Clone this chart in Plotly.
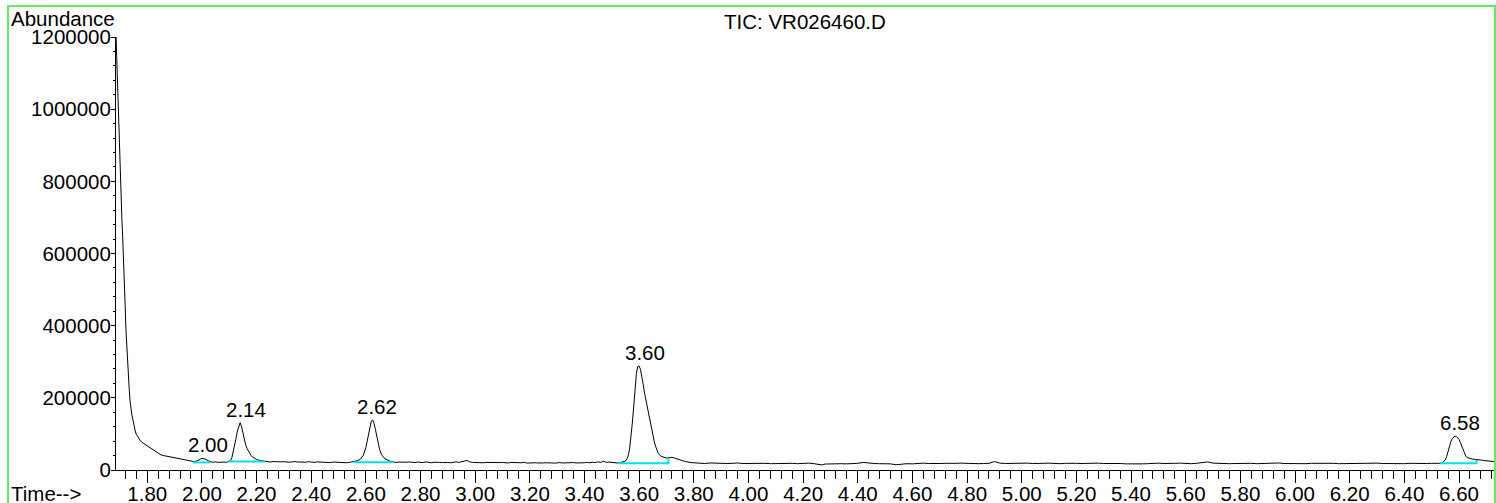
import plotly.graph_objects as go

# ---------------- data ----------------
# solvent front
time_front = [1.686, 1.689, 1.692, 1.695, 1.698, 1.701, 1.704, 1.707, 1.710, 1.713,
              1.716, 1.719, 1.722, 1.725, 1.728, 1.731, 1.734, 1.737, 1.740, 1.744,
              1.748, 1.752, 1.756, 1.760, 1.764, 1.768]
abund_front = [1200000, 1120000, 1030000, 950000, 880000, 830000, 760000, 700000, 650000, 600000,
               540000, 460000, 390000, 340000, 295000, 262000, 225000, 192000, 170000, 152000,
               138000, 120000, 108000, 99000, 93000, 88000]

# tail of solvent front + peaks at 2.00 and 2.14
time_early = [1.775, 1.78, 1.79, 1.80, 1.81, 1.82, 1.83, 1.84, 1.85, 1.86,
              1.87, 1.88, 1.89, 1.90, 1.91, 1.92, 1.93, 1.94, 1.95, 1.96,
              1.97, 1.98, 1.99, 2.00, 2.01, 2.02, 2.03, 2.04, 2.05, 2.06,
              2.07, 2.08, 2.09, 2.10, 2.105, 2.11, 2.115, 2.12, 2.125, 2.13,
              2.135, 2.14, 2.145, 2.15, 2.155, 2.16, 2.165, 2.17, 2.175, 2.18,
              2.185, 2.19, 2.20, 2.21, 2.22, 2.23]
abund_early = [81000, 77000, 72000, 66000, 61000, 57000, 51000, 46000, 42000, 40000,
               38500, 37000, 35500, 36000, 33500, 32500, 31000, 30000, 27500, 25000,
               23500, 24500, 28000, 32000, 31000, 26500, 23000, 21500, 22500, 21000,
               22500, 22000, 21500, 23500, 26000, 35000, 50000, 68000, 88000, 108000,
               124000, 131000, 121000, 102000, 84000, 70000, 60000, 52000, 45000, 40000,
               36000, 33000, 29500, 27000, 25500, 24000]

# baseline + peak at 2.62
time_mid = [2.24, 2.25, 2.26, 2.27, 2.28, 2.29, 2.30, 2.31, 2.32, 2.33,
            2.34, 2.35, 2.36, 2.37, 2.38, 2.39, 2.40, 2.41, 2.42, 2.43,
            2.44, 2.45, 2.46, 2.47, 2.48, 2.49, 2.50, 2.51, 2.52, 2.53,
            2.54, 2.55, 2.56, 2.57, 2.58, 2.59, 2.60, 2.605, 2.61, 2.615,
            2.62, 2.625, 2.63, 2.635, 2.64, 2.645, 2.65, 2.655, 2.66, 2.67,
            2.68, 2.69, 2.70]
abund_mid = [23000, 22000, 23500, 22500, 21500, 22500, 23000, 22000, 21500, 22500,
             23500, 22000, 21000, 22000, 21500, 23000, 22000, 21000, 22500, 22000,
             21000, 22000, 21500, 20500, 22000, 21500, 20500, 21500, 21000, 20000,
             21000, 22000, 23500, 26000, 30000, 40000, 62000, 82000, 104000, 124000,
             136000, 138500, 129000, 112000, 93000, 74000, 58000, 47000, 40000, 31000,
             26500, 24000, 22500]

# baseline 2.71 - 3.52
time_flat1 = [2.71, 2.72, 2.73, 2.74, 2.75, 2.76, 2.77, 2.78, 2.79, 2.80,
              2.81, 2.82, 2.83, 2.84, 2.85, 2.86, 2.87, 2.88, 2.89, 2.90,
              2.91, 2.92, 2.93, 2.94, 2.95, 2.96, 2.97, 2.98, 2.99, 3.00,
              3.01, 3.02, 3.03, 3.04, 3.05, 3.06, 3.07, 3.08, 3.09, 3.10,
              3.11, 3.12, 3.13, 3.14, 3.15, 3.16, 3.17, 3.18, 3.19, 3.20,
              3.21, 3.22, 3.23, 3.24, 3.25, 3.26, 3.27, 3.28, 3.29, 3.30,
              3.31, 3.32, 3.33, 3.34, 3.35, 3.36, 3.37, 3.38, 3.39, 3.40,
              3.41, 3.42, 3.43, 3.44, 3.45, 3.46, 3.47, 3.48, 3.49, 3.50,
              3.51, 3.52]
abund_flat1 = [21000, 22000, 21500, 20500, 21500, 22500, 21000, 20500, 22000, 21500,
               20500, 22500, 21000, 20000, 21500, 22000, 21000, 20500, 21500, 21000,
               20000, 21500, 22500, 21000, 22000, 24500, 26500, 22500, 21000, 20500,
               21500, 20500, 20000, 21000, 20500, 21500, 20500, 19500, 20500, 21000,
               20000, 19500, 21000, 20500, 19500, 20500, 20000, 21500, 19000, 19500,
               20500, 20000, 19500, 20500, 19500, 20000, 20500, 19500, 19000, 20000,
               20500, 19500, 20000, 19000, 20000, 20500, 19500, 19000, 20500, 20000,
               21000, 20000, 21500, 20500, 22500, 21000, 24500, 21000, 22000, 20500,
               20000, 19500]

# peak at 3.60
time_p360 = [3.53, 3.54, 3.55, 3.555, 3.56, 3.565, 3.57, 3.575, 3.58, 3.585,
             3.59, 3.595, 3.60, 3.605, 3.61, 3.615, 3.62, 3.625, 3.63, 3.635,
             3.64, 3.645, 3.65, 3.655, 3.66, 3.665, 3.67, 3.68, 3.69, 3.70,
             3.71, 3.72, 3.73, 3.74, 3.75, 3.76, 3.77, 3.78, 3.79, 3.80]
abund_p360 = [20000, 22000, 25000, 30000, 40000, 58000, 90000, 130000, 175000, 225000,
              268000, 287000, 288000, 278000, 260000, 236000, 212000, 192000, 172000, 152000,
              132000, 114000, 96000, 80000, 66000, 55000, 46000, 38000, 35000, 33000,
              34000, 35000, 33000, 30000, 27000, 25500, 23500, 21500, 20500, 20000]

# baseline 3.82 - 6.52
time_flat2 = [3.82, 3.84, 3.86, 3.88, 3.90, 3.92, 3.94, 3.96, 3.98, 4.00,
              4.02, 4.04, 4.06, 4.08, 4.10, 4.12, 4.14, 4.16, 4.18, 4.20,
              4.22, 4.24, 4.26, 4.27, 4.28, 4.30, 4.32, 4.34, 4.36, 4.38,
              4.40, 4.42, 4.44, 4.46, 4.48, 4.50, 4.52, 4.54, 4.56, 4.58,
              4.60, 4.62, 4.64, 4.66, 4.68, 4.70, 4.72, 4.74, 4.76, 4.78,
              4.80, 4.82, 4.84, 4.86, 4.88, 4.90, 4.92, 4.94, 4.96, 4.98,
              5.00, 5.02, 5.04, 5.06, 5.08, 5.10, 5.12, 5.14, 5.16, 5.18,
              5.20, 5.22, 5.24, 5.26, 5.28, 5.30, 5.32, 5.34, 5.36, 5.38,
              5.40, 5.42, 5.44, 5.46, 5.48, 5.50, 5.52, 5.54, 5.56, 5.58,
              5.60, 5.62, 5.64, 5.66, 5.68, 5.70, 5.72, 5.74, 5.76, 5.78,
              5.80, 5.82, 5.84, 5.86, 5.88, 5.90, 5.92, 5.94, 5.96, 5.98,
              6.00, 6.02, 6.04, 6.06, 6.08, 6.10, 6.12, 6.14, 6.16, 6.18,
              6.20, 6.22, 6.24, 6.26, 6.28, 6.30, 6.32, 6.34, 6.36, 6.38,
              6.40, 6.42, 6.44, 6.46, 6.48, 6.50, 6.52]
abund_flat2 = [19000, 18000, 19500, 18500, 19000, 18000, 18500, 19500, 18000, 18500,
               17500, 19000, 18500, 17500, 18000, 19000, 18000, 18500, 17500, 18500,
               19000, 17500, 15000, 14000, 16500, 17500, 17000, 17500, 17000, 17500,
               18500, 21000, 19000, 18000, 17500, 18000, 17000, 14500, 16500, 17500,
               17000, 18500, 19000, 18000, 19000, 18000, 18500, 17500, 18500, 19000,
               18000, 18500, 17500, 18000, 18500, 23500, 19000, 18000, 18500, 17500,
               18500, 19000, 18000, 17500, 18500, 19000, 18000, 17500, 18500, 19500,
               18500, 18000, 19000, 18500, 19000, 18000, 18500, 17500, 18000, 17000,
               16500, 16500, 17000, 17500, 18500, 19000, 18000, 17500, 18500, 19000,
               18000, 17500, 18500, 21000, 22500, 19000, 18000, 18500, 17500, 18000,
               18500, 17500, 18500, 17500, 18000, 19000, 18500, 19500, 18000, 17500,
               18500, 18000, 17500, 18500, 19000, 17500, 18000, 18500, 17500, 18000,
               18500, 17500, 18000, 18500, 19500, 19000, 18000, 17500, 18500, 18000,
               17500, 18500, 18000, 17500, 18000, 18500, 18000]

# peak at 6.58 and end of run
time_p658 = [6.53, 6.54, 6.55, 6.555, 6.56, 6.565, 6.57, 6.575, 6.58, 6.585,
             6.59, 6.595, 6.60, 6.605, 6.61, 6.615, 6.62, 6.625, 6.63, 6.64,
             6.65, 6.66, 6.67, 6.68, 6.69, 6.70, 6.71, 6.72, 6.73]
abund_p658 = [18500, 20500, 28000, 38000, 52000, 67000, 78000, 87000, 92000, 94000,
              93000, 90000, 85000, 76000, 65000, 55000, 45000, 38000, 34500, 32000,
              30000, 29500, 29500, 27500, 26500, 26000, 25000, 24000, 23000]

# labelled peaks (retention times)
peak_rt = [2.00, 2.14, 2.62, 3.60, 6.58]

# integration baselines: start time, end time, start level, end level, end-marker top
base_t0 = [1.968, 2.096, 2.554, 3.524, 6.530]
base_t1 = [2.030, 2.231, 2.700, 3.707, 6.664]
base_a0 = [21000, 23500, 21500, 18500, 18500]
base_a1 = [21000, 23500, 21500, 18500, 18500]
base_top = [None, None, None, 32000, 28000]

# axis ticks / labels
x_range = [1.6857, 6.728]
y_range = [0, 1200000]
title_text = "TIC: VR026460.D"
y_label = "Abundance"
x_label = "Time-->"

# ---------------- figure ----------------
time_min = (time_front + time_early + time_mid + time_flat1 + time_p360 +
            time_flat2 + time_p658)
abundance = (abund_front + abund_early + abund_mid + abund_flat1 + abund_p360 +
             abund_flat2 + abund_p658)

FONT = "Liberation Sans, Arial, sans-serif"
FS = 20.5
W, H = 1496, 503
ML, MR, MT, MB = 116, 2, 37, 33
PW, PH = W - ML - MR, H - MT - MB


def px_x(px):
    return (px - ML) / PW


def px_y(py):
    return (H - MB - py) / PH


fig = go.Figure()
fig.add_trace(go.Scatter(x=time_min, y=abundance, mode="lines",
                         line=dict(color="black", width=1), hoverinfo="skip"))

for t0, t1, a0, a1, top in zip(base_t0, base_t1, base_a0, base_a1, base_top):
    xs, ys = [t0, t1], [a0, a1]
    if top is not None:
        xs.append(t1)
        ys.append(top)
    fig.add_trace(go.Scatter(x=xs, y=ys, mode="lines",
                             line=dict(color="#00e3ee", width=2), hoverinfo="skip"))

annotations = []
for rt in peak_rt:
    apex = max(a for t, a in zip(time_min, abundance) if abs(t - rt) <= 0.02)
    annotations.append(dict(x=rt, y=apex, xref="x", yref="y", text=f"{rt:.2f}",
                            showarrow=False, xanchor="center", yanchor="bottom",
                            xshift=6, yshift=1, borderpad=0,
                            font=dict(family=FONT, size=FS, color="black")))

annotations.append(dict(x=0.5, y=px_y(21), xref="paper", yref="paper", text=title_text,
                        showarrow=False, xanchor="center", yanchor="middle",
                        font=dict(family=FONT, size=FS, color="black")))
annotations.append(dict(x=px_x(9), y=px_y(18), xref="paper", yref="paper", text=y_label,
                        showarrow=False, xanchor="left", yanchor="middle",
                        font=dict(family=FONT, size=FS, color="black")))
annotations.append(dict(x=px_x(9), y=px_y(493), xref="paper", yref="paper", text=x_label,
                        showarrow=False, xanchor="left", yanchor="middle",
                        font=dict(family=FONT, size=FS, color="black")))

fig.add_shape(type="rect", xref="paper", yref="paper",
              x0=px_x(8), x1=px_x(1495), y0=px_y(515), y1=px_y(6),
              line=dict(color="#62ea62", width=2), fillcolor="rgba(0,0,0,0)", layer="above")

axis_common = dict(showline=True, linecolor="black", linewidth=1, showgrid=False,
                   zeroline=False, ticks="outside", tickcolor="black", tickwidth=1,
                   automargin=False,
                   tickfont=dict(family=FONT, size=FS, color="black"))

fig.update_layout(
    width=W, height=H,
    margin=dict(l=ML, r=MR, t=MT, b=MB, pad=0, autoexpand=False),
    paper_bgcolor="white", plot_bgcolor="white",
    showlegend=False,
    annotations=annotations,
    xaxis=dict(range=x_range, tick0=1.8, dtick=0.2, tickformat=".2f", ticklen=12,
               ticklabelstandoff=-7,
               minor=dict(dtick=0.04, ticks="outside", ticklen=8, tickcolor="black",
                          showgrid=False),
               **axis_common),
    yaxis=dict(range=y_range, tick0=0, dtick=200000, tickformat="d", ticklen=4,
               ticklabelstandoff=-4,
               minor=dict(dtick=40000, ticks="outside", ticklen=2, tickcolor="black",
                          showgrid=False),
               **axis_common),
)

# the page's default body margin would offset the figure by 8 px; remove it
fig.write_html("out.html",
               config={"displayModeBar": False, "staticPlot": True},
               post_script="document.body.style.margin='0';document.body.style.overflow='hidden';")
